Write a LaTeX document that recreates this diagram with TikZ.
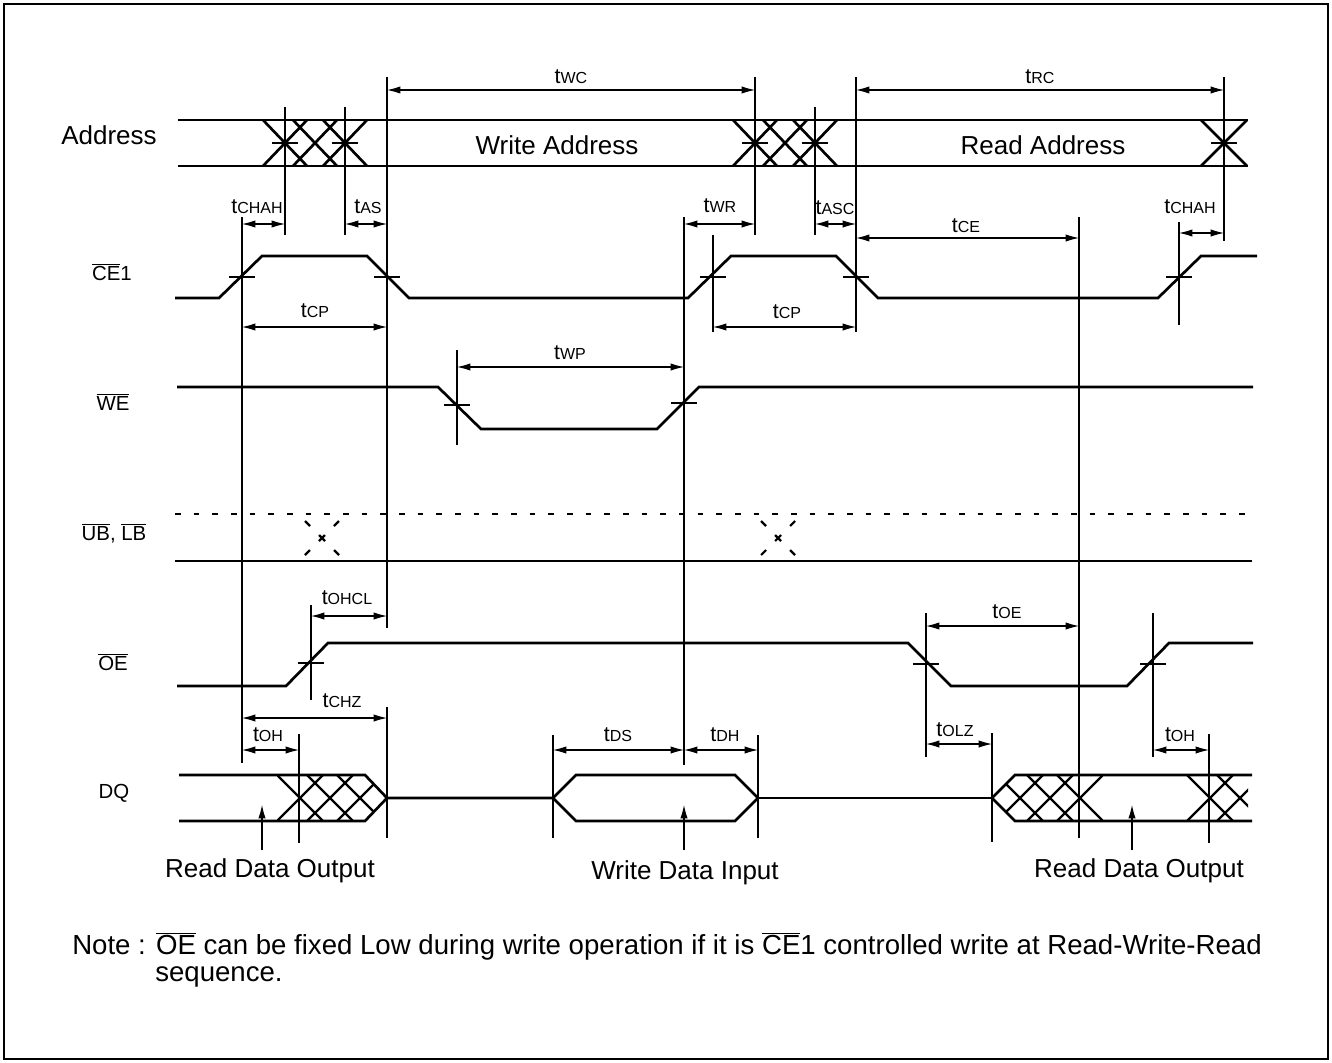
\documentclass[tikz,border=0pt]{standalone}
\usepackage{fontspec}
\setmainfont{Liberation Sans}
\usetikzlibrary{arrows.meta}
\newcommand\ovl[1]{$\overline{\hbox{#1}}$}
\newcommand\tsub[1]{{\fontsize{16}{16}\selectfont t}{\fontsize{12}{12}\selectfont #1}}
\begin{document}
\begin{tikzpicture}[x=0.75pt,y=-0.75pt,
  sig/.style={line width=2pt, line join=miter},
  hatch/.style={line width=1.7pt},
  ref/.style={line width=0.8pt},
  dim/.style={line width=0.8pt, {Latex[length=10pt,width=5.5pt]}-{Latex[length=10pt,width=5.5pt]}},
  up/.style={line width=0.8pt, -{Latex[length=10pt,width=5.5pt]}},
  tl/.style={inner sep=0pt},
  big/.style={inner sep=0pt, font=\fontsize{19.5}{22}\selectfont},
  nm/.style={inner sep=0pt, font=\fontsize{15.3}{18}\selectfont}]
\useasboundingbox (0,0) rectangle (1332,1063);
\draw[line width=1.5pt] (4,4) rectangle (1328,1059);

% ---------- signal names ----------
\node[big] (lAddr) at (109,135) {Address};
\node[nm] (lCE) at (112,272) {\ovl{CE}1};
\node[nm] (lWE) at (113,402) {\ovl{WE}};
\node[nm] (lUB) at (114,533) {\ovl{UB}, \ovl{LB}};
\node[nm] (lOE) at (113,662) {\ovl{OE}};
\node[nm] (lDQ) at (114,793) {DQ};

% ---------- reference verticals ----------
\foreach \x/\ya/\yb in {285/107/235, 345/107/235, 387/77/628, 387/707/838,
  242/217/763, 755/77/235, 815/107/235, 856/77/332, 684/217/765, 713/235/332,
  1079/217/838, 1224/77/241, 1179/222/325, 457/350/445, 311/605/700,
  926/613/757, 1153/613/757, 299/734/843, 553/735/838, 758/735/838,
  992/733/842, 1209/734/843}
  \draw[ref] (\x,\ya) -- (\x,\yb);

% ---------- ticks ----------
\foreach \x/\y in {285/143, 345/143, 755/143, 815/143, 1224/143,
  242/277, 387/277, 713/277, 856/277, 1179/277,
  457/405, 684/403, 311/663, 926/664, 1153/664}
  \draw[ref] (\x-13,\y) -- (\x+13,\y);

% ---------- Address ----------
\draw[sig] (178,120) -- (1248,120);
\draw[sig] (178,166) -- (1248,166);
\foreach \c in {285,315,345,755,785,815}{
  \draw[sig] (\c-22,166) -- (\c+22,120);
  \draw[sig] (\c-22,120) -- (\c+22,166);}
\draw[sig] (1201,166) -- (1247,120);
\draw[sig] (1201,120) -- (1247,166);
\node[big] (wa) at (557,145) {Write Address};
\node[big] (ra) at (1043,145) {Read Address};

% ---------- CE1 ----------
\draw[sig] (175,298) -- (219,298) -- (262,256) -- (367,256) -- (409,298)
  -- (688,298) -- (731,256) -- (836,256) -- (878,298) -- (1158,298)
  -- (1201,256) -- (1257,256);

% ---------- WE ----------
\draw[sig] (177,387) -- (438,387) -- (481,429) -- (657,429) -- (699,387) -- (1253,387);

% ---------- UB, LB ----------
\draw[sig, dash pattern=on 4.2pt off 9.8pt] (175,514) -- (1248,514);
\draw[sig] (175,561) -- (1252,561);
\foreach \cx in {322,778}{
  \foreach \sx/\sy in {1/1,1/-1,-1/1,-1/-1}
    \draw[line width=1.6pt] (\cx+12*\sx,538+12*\sy) -- (\cx+17*\sx,538+17*\sy);
  \draw[line width=1.6pt] (\cx-3,535) -- (\cx+3,541);
  \draw[line width=1.6pt] (\cx-3,541) -- (\cx+3,535);}

% ---------- OE ----------
\draw[sig] (177,686) -- (286,686) -- (328,643) -- (908,643) -- (951,686)
  -- (1127,686) -- (1169,643) -- (1253,643);

% ---------- DQ ----------
\draw[sig] (179,775) -- (365,775) -- (387,798) -- (365,821) -- (179,821);
\draw[sig] (387,798) -- (553,798) -- (576,775) -- (735,775) -- (758,798)
  -- (735,821) -- (576,821) -- (553,798);
\draw[sig] (758,798) -- (992,798);
\draw[sig] (1252,775) -- (1015,775) -- (992,798) -- (1015,821) -- (1252,821);
\begin{scope}
  \clip (277,775) -- (365,775) -- (387,798) -- (365,821) -- (277,821) -- cycle;
  \foreach \a in {277,307,337}{
    \draw[hatch] (\a,775) -- ++(46,46);
    \draw[hatch] (\a,821) -- ++(46,-46);}
\end{scope}
\begin{scope}
  \clip (992,798) -- (1015,775) -- (1103,775) -- (1103,821) -- (1015,821) -- cycle;
  \foreach \a in {967,997,1027,1057}{
    \draw[hatch] (\a,775) -- ++(46,46);
    \draw[hatch] (\a,821) -- ++(46,-46);}
\end{scope}
\begin{scope}
  \clip (1186,775) rectangle (1248,821);
  \foreach \a in {1187,1217}{
    \draw[hatch] (\a,775) -- ++(46,46);
    \draw[hatch] (\a,821) -- ++(46,-46);}
\end{scope}

% ---------- dimension arrows ----------
\draw[dim] (387,90) -- (755,90);   \node[tl] (tWC) at (571,77) {\tsub{WC}};
\draw[dim] (856,90) -- (1224,90);  \node[tl] (tRC) at (1040,77) {\tsub{RC}};
\draw[dim] (242,224) -- (285,224); \node[tl] (tCHAH) at (257,207) {\tsub{CHAH}};
\draw[dim] (345,224) -- (387,224); \node[tl] (tAS) at (368,207) {\tsub{AS}};
\draw[dim] (242,327) -- (387,327); \node[tl] (tCP) at (315,311) {\tsub{CP}};
\draw[dim] (684,224) -- (755,224); \node[tl] (tWR) at (720,206) {\tsub{WR}};
\draw[dim] (815,224) -- (856,224); \node[tl] (tASC) at (835,208) {\tsub{ASC}};
\draw[dim] (856,238) -- (1079,238); \node[tl] (tCE) at (966,226) {\tsub{CE}};
\draw[dim] (713,327) -- (856,327); \node[tl] (tCP2) at (787,312) {\tsub{CP}};
\draw[dim] (1179,233) -- (1224,233); \node[tl] (tCHAH2) at (1190,207) {\tsub{CHAH}};
\draw[dim] (457,367) -- (684,367); \node[tl] (tWP) at (570,353) {\tsub{WP}};
\draw[dim] (311,616) -- (387,616); \node[tl] (tOHCL) at (347,598) {\tsub{OHCL}};
\draw[dim] (926,626) -- (1079,626); \node[tl] (tOE) at (1007,612) {\tsub{OE}};
\draw[dim] (242,718) -- (387,718); \node[tl] (tCHZ) at (342,701) {\tsub{CHZ}};
\draw[dim] (242,750) -- (299,750); \node[tl] (tOH) at (268,735) {\tsub{OH}};
\draw[dim] (553,750) -- (684,750); \node[tl] (tDS) at (618,735) {\tsub{DS}};
\draw[dim] (684,750) -- (758,750); \node[tl] (tDH) at (725,735) {\tsub{DH}};
\draw[dim] (926,744) -- (992,744); \node[tl] (tOLZ) at (955,730) {\tsub{OLZ}};
\draw[dim] (1153,750) -- (1209,750); \node[tl] (tOH2) at (1180,735) {\tsub{OH}};

% ---------- data annotations ----------
\node[big] (rd1) at (270,871) {Read Data Output};
\node[big] (wd) at (685,873) {Write Data Input};
\node[big] (rd2) at (1139,871) {Read Data Output};
\coordinate (p1) at (262,805);
\coordinate (p2) at (684,805);
\coordinate (p3) at (1132,805);
\draw[up] (262,850) -- (p1);
\draw[up] (684,850) -- (p2);
\draw[up] (1132,850) -- (p3);

% ---------- note ----------
\node[inner sep=0pt, font=\fontsize{20.7}{24}\selectfont, anchor=west] (note1) at (72,946) {Note : \ovl{OE} can be fixed Low during write operation if it is \ovl{CE}1 controlled write at Read-Write-Read};
\node[inner sep=0pt, font=\fontsize{20.7}{24}\selectfont, anchor=west] (note2) at (155,977) {sequence.};
\end{tikzpicture}
\end{document}
